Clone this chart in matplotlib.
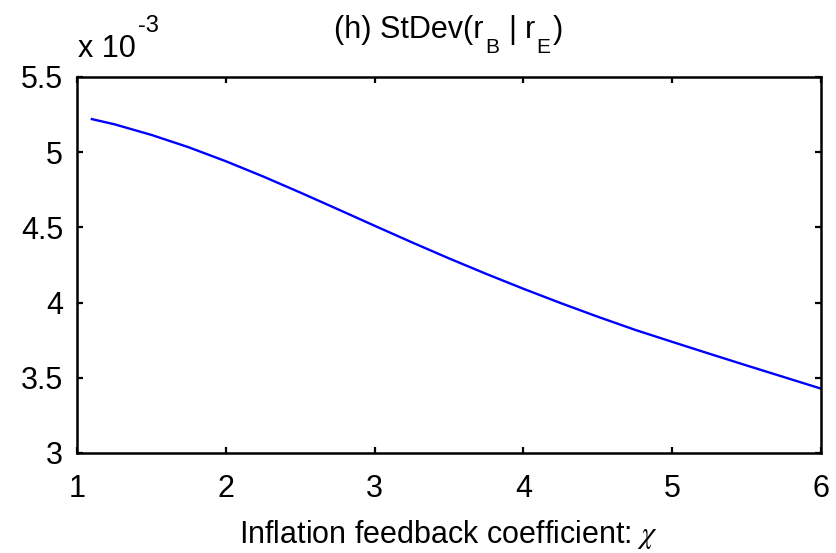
import numpy as np
import matplotlib.pyplot as plt
from matplotlib.ticker import FuncFormatter

plt.rcParams['font.family'] = ['Liberation Sans', 'DejaVu Sans']
plt.rcParams['mathtext.fontset'] = 'stix'

# values
chi = [1.1, 1.25, 1.5, 1.75, 2.0, 2.25, 2.5, 2.75, 3.0, 3.25, 3.5,
       3.75, 4.0, 4.25, 4.5, 4.75, 5.0, 5.25, 5.5, 5.75, 6.0]
stdev = [5.220e-3, 5.186e-3, 5.115e-3, 5.033e-3, 4.940e-3, 4.839e-3,
         4.732e-3, 4.622e-3, 4.511e-3, 4.401e-3, 4.294e-3, 4.191e-3,
         4.092e-3, 3.997e-3, 3.906e-3, 3.819e-3, 3.739e-3, 3.660e-3,
         3.582e-3, 3.505e-3, 3.428e-3]
xticks = [1, 2, 3, 4, 5, 6]
yticks = [3.0e-3, 3.5e-3, 4.0e-3, 4.5e-3, 5.0e-3, 5.5e-3]

W, H = 836, 553
fig = plt.figure(figsize=(W / 100, H / 100), dpi=100)
ax = fig.add_axes([77 / W, 1 - 453 / H, 744 / W, 376 / H])

ax.plot(chi, stdev, color='blue', linewidth=1.7)

ax.set_xlim(1, 6)
ax.set_ylim(3.0e-3, 5.5e-3)
ax.set_xticks(xticks)
ax.set_yticks(yticks)
ax.yaxis.set_major_formatter(FuncFormatter(lambda v, p: f'{v * 1e3:g}'))
ax.tick_params(direction='in', length=4.5, width=1.6, labelsize=22,
               top=True, right=True)
ax.tick_params(axis='x', pad=15)
ax.tick_params(axis='y', pad=10)
for s in ax.spines.values():
    s.set_linewidth(1.8)

ax.set_xlabel(r'Inflation feedback coefficient: $\chi$', fontsize=22)
ax.xaxis.label.set_va('baseline')
ax.xaxis.set_label_coords(0.5, (10 - 100) / 376)


def put_pieces(pieces, x0, y0, center=False):
    # pieces: (text, fontsize, dy in px, gap before in px), y0 = baseline from top
    renderer = fig.canvas.get_renderer()
    objs = []
    for txt, fs, dy, gap in pieces:
        t = fig.text(0, 0, txt, fontsize=fs, va='baseline', ha='left')
        w = t.get_window_extent(renderer).width
        objs.append((t, w, dy, gap))
    total = sum(w + gap for t, w, dy, gap in objs)
    x = x0 - total / 2 if center else x0
    for t, w, dy, gap in objs:
        x += gap
        t.set_position((x / W, 1 - (y0 - dy) / H))
        x += w


put_pieces([('(h) StDev(r', 22, 0, 0), ('B', 15, -15, 1),
            ('|', 22, 0, 9), ('r', 22, 0, 9), ('E', 15, -15, 1),
            (')', 22, 0, 3)], 449, 38, center=True)
put_pieces([('x 10', 22, 0, 0), ('-3', 17, 25, 2)], 78, 57)

plt.savefig('out.png', dpi=100)
